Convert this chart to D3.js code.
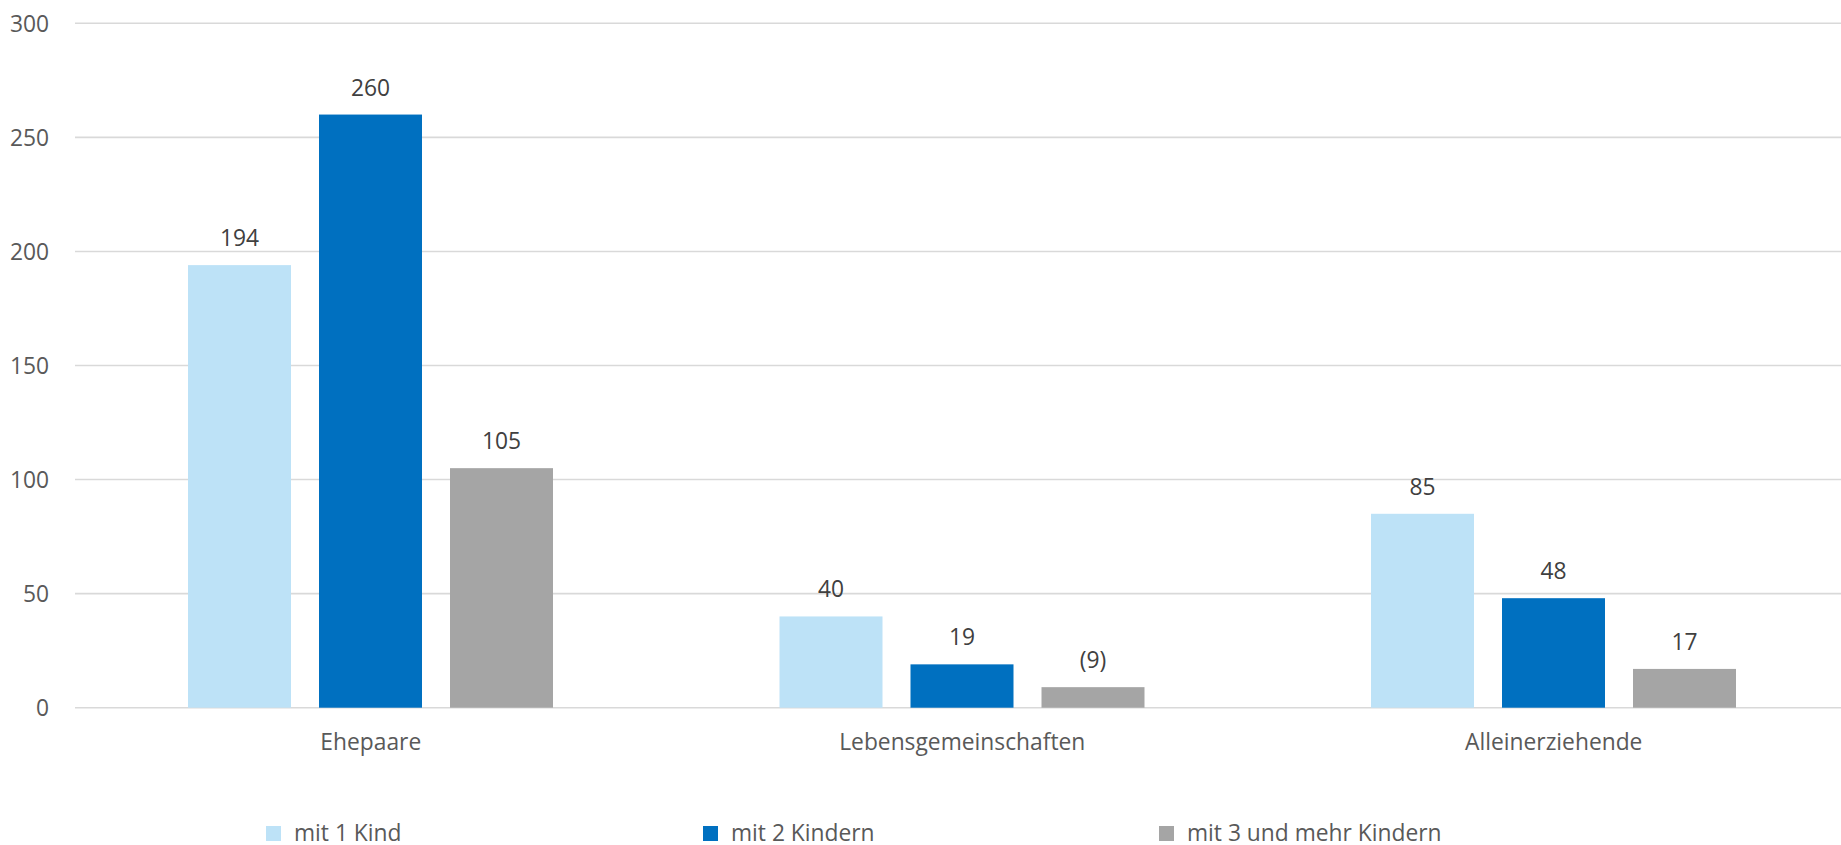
<!DOCTYPE html>
<html lang="de">
<head>
<meta charset="utf-8">
<title>Familien mit Kindern</title>
<script src="https://cdn.jsdelivr.net/npm/d3@7/dist/d3.min.js"></script>
<style>
  html, body { margin: 0; padding: 0; background: #ffffff; }
  svg { display: block; }
  text { font-family: "Open Sans", "Noto Sans", sans-serif; }
</style>
</head>
<body>
<svg id="chart" width="1841" height="845"></svg>
<script>
// Household types on the x axis
const categories = ["Ehepaare", "Lebensgemeinschaften", "Alleinerziehende"];

// Series: number of children
const seriesNames = ["mit 1 Kind", "mit 2 Kindern", "mit 3 und mehr Kindern"];
const seriesColors = ["#BDE2F7", "#0070C0", "#A5A5A5"];

// Values per series, in category order
const mit1Kind = [194, 40, 85];
const mit2Kindern = [260, 19, 48];
const mit3undMehr = [105, 9, 17];

// Labels shown above bars (bracketed value marks a low case count)
const labels1 = ["194", "40", "85"];
const labels2 = ["260", "19", "48"];
const labels3 = ["105", "(9)", "17"];

// y axis ticks
const yTicks = [0, 50, 100, 150, 200, 250, 300];

const seriesValues = [mit1Kind, mit2Kindern, mit3undMehr];
const seriesLabels = [labels1, labels2, labels3];

const svg = d3.select("#chart");
const W = 1841;
const FS = 22.8;

// Plot geometry
const plotLeft = 75, groupStep = 591.5;
const plotRight = plotLeft + groupStep * categories.length;
const yBase = 707.7, yTop = 23.3;

const x0 = d3.scaleBand().domain(categories).range([plotLeft, plotRight]).padding(0);
const x1 = d3.scaleBand().domain(d3.range(seriesNames.length))
  .range([113, 113 + 3 * 103 + 2 * 28]).paddingInner(28 / 131).paddingOuter(0);
const y = d3.scaleLinear().domain([0, 300]).range([yBase, yTop]);

// Gridlines
svg.append("g").selectAll("line").data(yTicks).join("line")
  .attr("x1", plotLeft).attr("x2", W)
  .attr("y1", d => y(d)).attr("y2", d => y(d))
  .attr("stroke", "#D9D9D9").attr("stroke-width", 1.6);

// y axis labels
const yAxis = d3.axisLeft(y).tickValues(yTicks).tickSize(0).tickPadding(0);
const gy = svg.append("g").attr("transform", "translate(49,0)").call(yAxis);
gy.select(".domain").remove();
gy.selectAll("text")
  .attr("fill", "#595959").attr("font-size", FS)
  .attr("font-family", "'Open Sans', sans-serif")
  .attr("dy", "0.36em");

// Bars
const groups = svg.append("g").selectAll("g").data(categories).join("g")
  .attr("transform", d => `translate(${x0(d)},0)`);

groups.each(function(cat, ci) {
  const g = d3.select(this);
  seriesValues.forEach((vals, si) => {
    g.append("rect")
      .attr("x", x1(si)).attr("width", x1.bandwidth())
      .attr("y", y(vals[ci])).attr("height", yBase - y(vals[ci]))
      .attr("fill", seriesColors[si]);
    g.append("text")
      .attr("x", x1(si) + x1.bandwidth() / 2)
      .attr("y", y(vals[ci]) - 19)
      .attr("text-anchor", "middle")
      .attr("fill", "#404040").attr("font-size", FS)
      .text(seriesLabels[si][ci]);
  });
});

// x axis labels
const xAxis = d3.axisBottom(x0).tickSize(0).tickPadding(0);
const gx = svg.append("g").attr("transform", `translate(0,${yBase})`).call(xAxis);
gx.select(".domain").remove();
gx.selectAll("text")
  .attr("fill", "#595959").attr("font-size", FS)
  .attr("font-family", "'Open Sans', sans-serif")
  .attr("dy", 0).attr("y", 42);

// Legend
const legendX = [266, 703, 1159];
const legend = svg.append("g").selectAll("g").data(seriesNames).join("g")
  .attr("transform", (d, i) => `translate(${legendX[i]},826)`);
legend.append("rect").attr("width", 15).attr("height", 15)
  .attr("fill", (d, i) => seriesColors[i]);
legend.append("text").attr("x", 28).attr("y", 15)
  .attr("fill", "#595959").attr("font-size", FS)
  .text(d => d);
</script>
</body>
</html>
